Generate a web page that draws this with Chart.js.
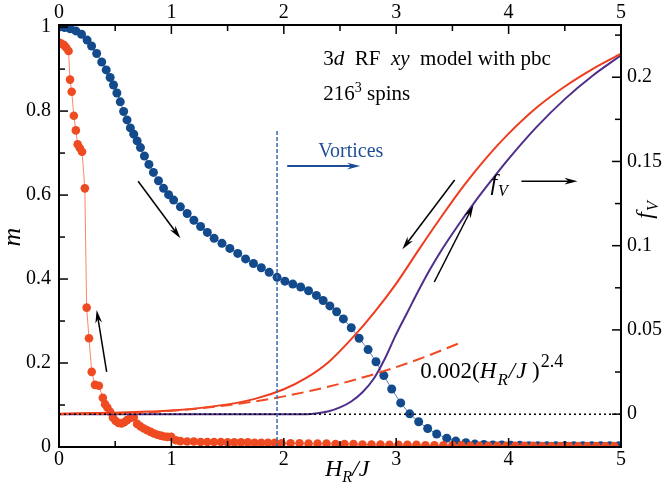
<!DOCTYPE html>
<html>
<head>
<meta charset="utf-8">
<script src="https://cdn.jsdelivr.net/npm/chart.js@4.4.1/dist/chart.umd.min.js"></script>
<style>
  html, body { margin: 0; padding: 0; background: #fff; }
</style>
</head>
<body>
<canvas id="chart" width="663" height="495"></canvas>
<script>
// m(H_R/J), field sweep from zero upwards (blue)
const blueH = [0, 0.05, 0.10, 0.15, 0.20, 0.25, 0.29, 0.335, 0.38, 0.42,
  0.455, 0.485, 0.515, 0.545, 0.575, 0.605, 0.635, 0.665, 0.695, 0.725,
  0.76, 0.80, 0.84, 0.885, 0.93, 0.975, 1.02, 1.08, 1.14, 1.20,
  1.26, 1.32, 1.38, 1.45, 1.52, 1.59, 1.66, 1.73, 1.80, 1.87,
  1.94, 2.01, 2.08, 2.15, 2.22, 2.29, 2.35, 2.41, 2.47, 2.53,
  2.60, 2.67, 2.75, 2.82, 2.89, 2.96, 3.04, 3.12, 3.20, 3.28,
  3.36, 3.45, 3.53, 3.62, 3.70, 3.78, 3.86, 3.94, 4.02, 4.10,
  4.18, 4.26, 4.34, 4.42, 4.50, 4.58, 4.66, 4.74, 4.82, 4.90, 4.98];
const blueM = [1.000, 0.999, 0.996, 0.991, 0.983, 0.969, 0.955, 0.937, 0.917, 0.898,
  0.880, 0.862, 0.843, 0.822, 0.799, 0.779, 0.760, 0.745, 0.729, 0.713,
  0.693, 0.673, 0.654, 0.634, 0.616, 0.601, 0.588, 0.572, 0.556, 0.540,
  0.525, 0.511, 0.497, 0.485, 0.473, 0.461, 0.448, 0.437, 0.427, 0.416,
  0.404, 0.395, 0.388, 0.381, 0.372, 0.361, 0.349, 0.336, 0.322, 0.305,
  0.284, 0.259, 0.232, 0.203, 0.170, 0.138, 0.105, 0.079, 0.060, 0.044,
  0.031, 0.021, 0.014, 0.010, 0.007, 0.006, 0.005, 0.005, 0.004, 0.004,
  0.003, 0.003, 0.003, 0.003, 0.003, 0.003, 0.003, 0.003, 0.003, 0.003, 0.003];

// m(H_R/J), field sweep back down (red)
const redH = [0.00, 0.02, 0.045, 0.065, 0.085, 0.098, 0.113, 0.132, 0.150, 0.166,
  0.185, 0.205, 0.230, 0.246, 0.267, 0.291, 0.320, 0.355, 0.390, 0.410,
  0.430, 0.455, 0.480, 0.505, 0.530, 0.555, 0.580, 0.605, 0.635, 0.665,
  0.695, 0.725, 0.755, 0.785, 0.815, 0.845, 0.875, 0.905, 0.935, 0.965,
  1.00, 1.04, 1.08, 1.14, 1.20, 1.26, 1.32, 1.38, 1.44, 1.50,
  1.56, 1.62, 1.68, 1.74, 1.80, 1.86, 1.92, 1.98, 2.06, 2.14,
  2.22, 2.30, 2.38, 2.46, 2.54, 2.62, 2.70, 2.78, 2.86, 2.94,
  3.02, 3.10, 3.18, 3.26, 3.34, 3.42, 3.50, 3.58, 3.66, 3.74,
  3.82, 3.90, 3.98, 4.06, 4.14, 4.22, 4.30, 4.38, 4.46, 4.54,
  4.62, 4.70, 4.78, 4.86, 4.94];
const redM = [0.963, 0.961, 0.957, 0.951, 0.943, 0.875, 0.846, 0.789, 0.754, 0.721,
  0.712, 0.703, 0.616, 0.332, 0.259, 0.179, 0.148, 0.146, 0.117, 0.102,
  0.094, 0.084, 0.070, 0.062, 0.057, 0.056, 0.059, 0.064, 0.069, 0.071,
  0.055, 0.049, 0.044, 0.040, 0.036, 0.032, 0.029, 0.027, 0.025, 0.024,
  0.024, 0.016, 0.014, 0.013, 0.013, 0.012, 0.012, 0.012, 0.012, 0.011,
  0.011, 0.011, 0.011, 0.010, 0.010, 0.010, 0.010, 0.009, 0.009, 0.009,
  0.008, 0.008, 0.008, 0.007, 0.007, 0.007, 0.006, 0.006, 0.006, 0.005,
  0.005, 0.005, 0.005, 0.004, 0.004, 0.004, 0.004, 0.004, 0.003, 0.003,
  0.003, 0.003, 0.003, 0.003, 0.003, 0.003, 0.002, 0.002, 0.002, 0.002,
  0.002, 0.002, 0.002, 0.002, 0.002];

// vortex fraction f_V, coming down from high field (red) and going up (purple)
const fvDownH = [0, 0.5, 1.0, 1.5, 1.75, 2.0, 2.2, 2.4, 2.6, 2.8,
  3.0, 3.2, 3.4, 3.6, 3.8, 4.0, 4.25, 4.5, 4.75, 5.0];
const fvDown = [0.0003, 0.0009, 0.0021, 0.0058, 0.0092, 0.0148, 0.0215, 0.0310, 0.0445, 0.0600,
  0.0775, 0.0975, 0.1170, 0.1355, 0.1520, 0.1665, 0.1820, 0.1945, 0.2050, 0.2140];
const fvUpH = [0, 2.2, 2.3, 2.4, 2.5, 2.6, 2.7, 2.8, 2.9, 3.0,
  3.1, 3.2, 3.3, 3.4, 3.55, 3.7, 3.85, 4.0, 4.25, 4.5, 4.75, 5.0];
const fvUp = [0, 0, 0.0005, 0.0017, 0.0040, 0.0075, 0.0130, 0.0210, 0.0330, 0.0475,
  0.0605, 0.0735, 0.0858, 0.0970, 0.1120, 0.1260, 0.1390, 0.1515, 0.1705, 0.1870, 0.2010, 0.2130];

// low-field power law 0.002 (H_R/J)^2.4
const fitCoef = 0.002;
const fitExp = 2.4;
const fitH = [0, 0.25, 0.5, 0.75, 1.0, 1.25, 1.5, 1.75, 2.0, 2.25, 2.5, 2.75, 3.0, 3.25, 3.55];

// onset of vortices
const vortexH = 1.94;
const vortexTop = 0.755;

// ticks
const hTicks = [0, 1, 2, 3, 4, 5];
const hMinor = [0.5, 1.5, 2.5, 3.5, 4.5];
const mTicks = [0, 0.2, 0.4, 0.6, 0.8, 1];
const mMinor = [0.1, 0.3, 0.5, 0.7, 0.9];
const fvTicks = [0, 0.05, 0.1, 0.15, 0.2];
const fvMinor = [0.025, 0.075, 0.125, 0.175, 0.225];

const SERIF = '"Liberation Serif", "Times New Roman", serif';
const pts = (xs, ys) => xs.map((x, i) => ({ x: x, y: ys[i] }));

function axis(position, min, max, ticks, size, pad) {
  const horizontal = position === 'top' || position === 'bottom';
  return {
    type: 'linear', position: position, min: min, max: max,
    grid: { display: false, drawTicks: false },
    border: { display: false },
    ticks: {
      color: '#000', padding: pad, autoSkip: false, maxRotation: 0,
      font: { family: SERIF, size: 20 },
      callback: v => String(v)
    },
    afterBuildTicks: s => { s.ticks = ticks.map(v => ({ value: v })); },
    afterFit: s => { if (horizontal) s.height = size; else s.width = size; }
  };
}

// draws a run of text pieces (italic / sub / superscript) left to right
function drawRuns(ctx, x, y, runs) {
  for (const r of runs) {
    ctx.font = (r.it ? 'italic ' : '') + r.sz + 'px ' + SERIF;
    ctx.fillText(r.t, x, y + (r.dy || 0));
    x += ctx.measureText(r.t).width + (r.gap || 0);
  }
  return x;
}
function runsWidth(ctx, runs) {
  let w = 0;
  for (const r of runs) {
    ctx.font = (r.it ? 'italic ' : '') + r.sz + 'px ' + SERIF;
    w += ctx.measureText(r.t).width + (r.gap || 0);
  }
  return w;
}

function arrow(ctx, x0, y0, x1, y1, color, lw) {
  const a = Math.atan2(y1 - y0, x1 - x0);
  const len = 13, hw = 3.4;
  ctx.strokeStyle = color; ctx.fillStyle = color; ctx.lineWidth = lw;
  ctx.beginPath();
  ctx.moveTo(x0, y0);
  ctx.lineTo(x1 - Math.cos(a) * len * 0.7, y1 - Math.sin(a) * len * 0.7);
  ctx.stroke();
  ctx.beginPath();
  ctx.moveTo(x1, y1);
  ctx.lineTo(x1 - Math.cos(a) * len + Math.sin(a) * hw, y1 - Math.sin(a) * len - Math.cos(a) * hw);
  ctx.lineTo(x1 - Math.cos(a) * len * 0.7, y1 - Math.sin(a) * len * 0.7);
  ctx.lineTo(x1 - Math.cos(a) * len - Math.sin(a) * hw, y1 - Math.sin(a) * len + Math.cos(a) * hw);
  ctx.closePath();
  ctx.fill();
}

// arrows in data units: [h0, m0, h1, m1]
const arrows = [
  [0.704, 0.633, 1.08, 0.497],
  [0.424, 0.179, 0.335, 0.326],
  [3.52, 0.636, 3.055, 0.471],
  [3.339, 0.393, 3.687, 0.576],
  [4.114, 0.633, 4.613, 0.633]
];

const decorations = {
  id: 'decorations',
  afterDatasetsDraw(chart) {
    const ctx = chart.ctx;
    const a = chart.chartArea;
    const x = chart.scales.x, y = chart.scales.y, yF = chart.scales.yF;
    ctx.save();
    ctx.strokeStyle = '#000';
    ctx.lineWidth = 1.5;
    const tick = (x0, y0, x1, y1) => { ctx.beginPath(); ctx.moveTo(x0, y0); ctx.lineTo(x1, y1); ctx.stroke(); };
    hTicks.concat(hMinor).forEach(v => {
      const len = hTicks.includes(v) ? 9 : 6;
      const px = x.getPixelForValue(v);
      tick(px, a.bottom, px, a.bottom - len);
      tick(px, a.top, px, a.top + len);
    });
    mTicks.concat(mMinor).forEach(v => {
      const len = mTicks.includes(v) ? 9 : 6;
      const py = y.getPixelForValue(v);
      tick(a.left, py, a.left + len, py);
    });
    fvTicks.concat(fvMinor).forEach(v => {
      const len = fvTicks.includes(v) ? 9 : 6;
      const py = yF.getPixelForValue(v);
      tick(a.right, py, a.right - len, py);
    });
    ctx.lineWidth = 2;
    ctx.strokeRect(a.left, a.top, a.right - a.left, a.bottom - a.top);

    // arrows
    arrows.forEach(r => arrow(ctx, x.getPixelForValue(r[0]), y.getPixelForValue(r[1]),
      x.getPixelForValue(r[2]), y.getPixelForValue(r[3]), '#000', 1.5));
    arrow(ctx, x.getPixelForValue(2.03), y.getPixelForValue(0.669),
      x.getPixelForValue(2.68), y.getPixelForValue(0.669), '#1f4e96', 2);

    // labels inside the plot
    ctx.fillStyle = '#000';
    ctx.textBaseline = 'alphabetic';
    ctx.textAlign = 'left';
    drawRuns(ctx, x.getPixelForValue(2.351), y.getPixelForValue(0.9095), [
      { t: '3', sz: 21 }, { t: 'd', sz: 21, it: true }, { t: '  RF  ', sz: 21 },
      { t: 'xy', sz: 21, it: true }, { t: '  model with pbc', sz: 21 }
    ]);
    drawRuns(ctx, x.getPixelForValue(2.351), y.getPixelForValue(0.826), [
      { t: '216', sz: 21 }, { t: '3', sz: 14, dy: -8 }, { t: ' spins', sz: 21 }
    ]);
    ctx.fillStyle = '#1f4e96';
    drawRuns(ctx, x.getPixelForValue(2.306), y.getPixelForValue(0.690), [
      { t: 'Vortices', sz: 20 }
    ]);
    ctx.fillStyle = '#000';
    drawRuns(ctx, x.getPixelForValue(3.838), y.getPixelForValue(0.612), [
      { t: 'f', sz: 24, it: true, gap: 1 }, { t: 'V', sz: 16, it: true, dy: 6 }
    ]);
    drawRuns(ctx, x.getPixelForValue(3.215), y.getPixelForValue(0.164), [
      { t: '0.002(', sz: 23 }, { t: 'H', sz: 23, it: true, gap: 1 }, { t: 'R', sz: 17, it: true, dy: 7, gap: 1 },
      { t: '/', sz: 23, it: true, gap: 1 }, { t: 'J', sz: 23, it: true }, { t: ' )', sz: 23, gap: 1 },
      { t: '2.4', sz: 18, dy: -11 }
    ]);

    // axis titles
    drawRuns(ctx, 325, 476, [
      { t: 'H', sz: 24, it: true }, { t: 'R', sz: 16, it: true, dy: 6 },
      { t: '/J', sz: 24, it: true }
    ]);
    ctx.save();
    ctx.translate(20, 237);
    ctx.rotate(-Math.PI / 2);
    ctx.textAlign = 'center';
    ctx.font = 'italic 26px ' + SERIF;
    ctx.fillText('m', 0, 0);
    ctx.restore();
    ctx.save();
    ctx.translate(652, 210);
    ctx.rotate(-Math.PI / 2);
    const fv = [{ t: 'f', sz: 24, it: true, gap: 1 }, { t: 'V', sz: 16, it: true, dy: 6 }];
    drawRuns(ctx, -runsWidth(ctx, fv) / 2, 0, fv);
    ctx.restore();
    ctx.restore();
  }
};

new Chart(document.getElementById('chart'), {
  type: 'scatter',
  data: {
    datasets: [
      {
        // f_V = 0 reference
        data: pts([0, 5], [0, 0]), yAxisID: 'yF', showLine: true,
        borderColor: '#000', borderWidth: 1.5, borderDash: [2, 3], pointRadius: 0
      },
      {
        data: pts([vortexH, vortexH], [0, vortexTop]), yAxisID: 'y', showLine: true,
        borderColor: '#3a6ab3', borderWidth: 1.5, borderDash: [4, 2], pointRadius: 0
      },
      {
        data: fitH.map(h => ({ x: h, y: fitCoef * Math.pow(h, fitExp) })), yAxisID: 'yF', showLine: true,
        borderColor: '#f04a23', borderWidth: 2, borderDash: [12, 6], pointRadius: 0,
        cubicInterpolationMode: 'monotone'
      },
      {
        data: pts(fvDownH, fvDown), yAxisID: 'yF', showLine: true,
        borderColor: '#f03c1e', borderWidth: 2, pointRadius: 0, cubicInterpolationMode: 'monotone'
      },
      {
        data: pts(fvUpH, fvUp), yAxisID: 'yF', showLine: true,
        borderColor: '#4f2d8a', borderWidth: 2, pointRadius: 0, cubicInterpolationMode: 'monotone'
      },
      {
        data: pts(redH, redM), yAxisID: 'y', showLine: true,
        borderColor: '#f7876a', borderWidth: 1,
        pointRadius: 4.3, pointBackgroundColor: '#ef4b22', pointBorderWidth: 0
      },
      {
        data: pts(blueH, blueM), yAxisID: 'y', showLine: true,
        borderColor: '#5a80b8', borderWidth: 1,
        pointRadius: 4.5, pointBackgroundColor: '#124a8b', pointBorderWidth: 0
      }
    ]
  },
  options: {
    responsive: false,
    animation: false,
    devicePixelRatio: 1,
    layout: { padding: 0 },
    plugins: { legend: { display: false }, tooltip: { enabled: false } },
    scales: {
      x: axis('bottom', 0, 5, hTicks, 48, 1),
      xTop: axis('top', 0, 5, hTicks, 25, 0),
      y: axis('left', 0, 1.005, mTicks, 59, 8),
      yF: axis('right', -0.0195, 0.2310, fvTicks, 42, 6)
    }
  },
  plugins: [decorations]
});
</script>
</body>
</html>
